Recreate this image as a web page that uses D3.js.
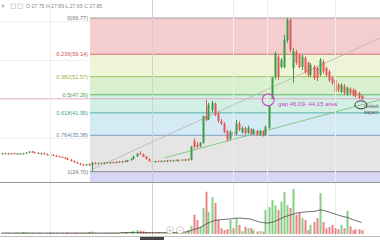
<!DOCTYPE html>
<html><head><meta charset="utf-8">
<script src="https://cdn.jsdelivr.net/npm/d3@7"></script>
<style>html,body{margin:0;padding:0;background:#fff;overflow:hidden}svg{display:block}</style>
</head><body>
<svg id="c" width="380" height="240"></svg>
<script>
const opens=[30.0,30.1,30.0,29.9,30.1,30.0,30.0,29.9,30.1,30.3, 30.6,30.4,30.2,30.0,30.1,29.8,29.6,29.7,29.4,29.2, 29.0,28.8,28.6,28.2,27.8,27.4,27.1,26.8,26.6,26.9, 26.6,27.2,27.0,27.3,27.1,27.4,27.2,27.5,27.3,27.6, 27.5,27.8,27.7,28.1,28.4,29.2,30.0,29.8,29.1,28.4, 27.8,27.6,27.8,27.6,27.9,27.7,28.0,27.8,28.1,27.9, 28.2,28.0,28.3,28.2,33.8,32.6,32.2,33.2,41.0,40.0, 42.8,44.6,41.9,39.6,38.8,36.6,34.3,36.4,35.8,38.8, 36.2,37.4,36.1,37.0,35.8,36.7,35.5,36.4,35.6,37.6, 46.09,52.5,58.4,55.4,55.4,63.3,69.2,55.0,59.8,58.9, 55.4,58.1,56.6,53.1,55.4,55.1,53.1,56.9,55.1,54.0, 52.2,51.6,50.2,48.1,49.9,47.5,49.0,48.7,48.4,47.8, 46.9];
const highs=[30.2,30.3,30.2,30.2,30.3,30.2,30.2,30.2,30.4,30.7, 30.8,30.6,30.4,30.3,30.3,30.0,29.9,29.9,29.6,29.4, 29.2,29.0,28.8,28.4,28.0,27.6,27.3,27.0,27.0,27.1, 27.6,27.5,27.4,27.5,27.5,27.6,27.6,27.7,27.7,27.9, 27.9,28.1,28.2,28.6,29.4,30.2,30.7,30.0,29.3,28.6, 28.0,27.9,28.0,28.0,28.1,28.1,28.2,28.2,28.3,28.3, 28.4,28.4,28.6,32.3,34.4,33.4,33.4,41.2,45.8,44.9, 45.5,45.0,42.4,40.2,39.2,37.0,36.9,36.9,39.9,39.5, 38.0,37.9,38.2,37.5,37.3,37.0,37.0,36.8,38.2,44.15, 52.5,59.9,59.0,58.0,64.8,69.77,69.77,61.0,60.4,59.4, 59.0,58.5,57.0,56.6,56.0,55.5,58.0,57.5,55.5,54.5, 52.6,52.0,50.7,50.6,50.4,49.6,49.4,49.1,48.8,48.1, 47.2];
const lows=[29.8,29.9,29.8,29.8,29.9,29.8,29.8,29.8,30.0,30.2, 30.3,30.1,29.9,29.8,29.7,29.5,29.4,29.3,29.1,28.9, 28.7,28.5,28.1,27.7,27.3,27.0,26.6,26.4,26.5,26.4, 24.70,26.9,26.8,27.0,26.9,27.1,27.0,27.2,27.1,27.3, 27.3,27.5,27.5,27.9,28.2,29.0,29.6,29.0,28.3,27.7, 27.4,27.4,27.5,27.4,27.6,27.5,27.7,27.6,27.8,27.7, 27.9,27.8,28.0,28.0,31.5,31.6,31.9,32.9,39.5,39.8, 42.2,41.0,39.0,38.4,36.0,33.5,34.0,35.2,35.5,36.6, 35.9,35.6,35.8,35.6,35.5,35.2,35.2,35.0,35.3,37.3, 46.09,51.8,51.6,55.0,55.0,62.5,59.8,50.75,56.0,55.0, 54.5,53.4,52.5,52.5,51.6,51.3,52.8,53.5,52.5,51.0, 50.2,46.6,48.0,47.8,47.2,47.0,47.3,46.8,46.5,46.0, 45.8];
const closes=[30.1,30.0,29.9,30.1,30.0,30.0,29.9,30.1,30.3,30.6, 30.4,30.2,30.0,30.1,29.8,29.6,29.7,29.4,29.2,29.0, 28.8,28.6,28.2,27.8,27.4,27.1,26.8,26.6,26.9,26.6, 27.2,27.0,27.3,27.1,27.4,27.2,27.5,27.3,27.6,27.5, 27.8,27.7,28.1,28.4,29.2,30.0,29.8,29.1,28.4,27.8, 27.6,27.8,27.6,27.9,27.7,28.0,27.8,28.1,27.9,28.2, 28.0,28.3,28.2,32.0,32.0,32.0,33.2,41.0,39.9,44.3, 44.9,41.4,39.6,38.8,36.4,34.1,36.4,35.6,38.8,37.0, 37.5,36.0,37.6,35.8,37.0,35.5,36.7,35.3,37.9,44.0, 52.2,59.5,52.5,57.5,63.3,69.2,60.4,60.0,56.6,55.4, 58.4,54.0,53.1,56.0,52.2,52.2,57.5,54.0,53.1,51.6, 50.75,48.1,48.7,50.2,47.8,49.3,47.8,47.2,46.9,46.4, 46.1];
const volumes=[2,1,2,1,2,3,2,4,3,2, 2,1,2,2,1,2,3,2,2,1, 2,2,3,2,2,3,2,2,3,4, 5,2,2,1,2,2,3,2,3,2, 3,4,4,5,6,8,7,6,4,3, 2,2,3,2,2,2,3,2,2,2, 3,4,8,17,40,29,15,54,88,46, 77,65,29,12,8,10,29,12,33,19, 6,15,12,12,8,5,6,5,50,56, 71,60,50,67,88,60,54,94,40,44, 33,29,8,19,25,33,85,25,12,15, 19,12,10,19,12,48,16,8,10,10, 8];
const volMA=[2,2,2,2,2,2,2,2,2,2, 2,2,2,2,2,2,2,2,2,2, 2,2,2,2,2,2,2,2,2,2, 2,2,2,2,2,2,2,2,2,2, 3,3,3,3,3,3,3,3,3,3, 3,3,3,3,3,3,3,3,3,3, 4,4,5,7,9,11,13,16,20,23, 26,28,29,30,30,31,31,32,33,33, 33,32,32,31,29,27,25,24,23,23, 24,26,29,32,35,37,39,41,43,44, 45,46,46,47,47,48,50,50,48,46, 44,42,40,38,36,35,33,30,28,26, 24];
const fibRatios=[0,0.236,0.382,0.5,0.618,0.764,1,1.272];
const fibPrices=[69.77,59.14,52.57,47.26,41.95,35.38,24.70,12.44];
const fibLabels=["0(69.77)","0.236(59.14)","0.382(52.57)","0.5(47.26)","0.618(41.95)","0.764(35.38)","1(24.70)"];
const fibStartIndex=29.5;
const gapTop=46.09, gapBottom=44.15;
const trendFrom=[[30,25.3],[54.5,28.79]];
const trendTo=[[126.2,63.9],[126.2,45.77]];
const headerText="O 27.75 H 27.89 L 27.65 C 27.85";
const gapText="gap 46.09- 44.15 area";
const noteLines=["destek","kapanı"];
const gridIdx=[16,77,88.5,111];
const crossIdx=50.2;

const W=380,H=240,N=opens.length;
const svg=d3.select("#c");
const x=d3.scaleLinear().domain([0,N-1]).range([1.5,361.5]);
const y=d3.scaleLinear().domain([24.70,69.77]).range([171.7,18]);
const yv=d3.scaleLinear().domain([0,100]).range([234,186]);
const FONT="'Liberation Sans',Arial,sans-serif";
svg.append("rect").attr("width",W).attr("height",H).attr("fill","#fff");
svg.append("defs").append("clipPath").attr("id","pc").append("rect").attr("x",0).attr("y",0).attr("width",W).attr("height",182);
const pane=svg.append("g").attr("clip-path","url(#pc)");

[21,60,138].forEach(v=>pane.append("line").attr("x1",0).attr("x2",W).attr("y1",v+0.5).attr("y2",v+0.5).attr("stroke","#f0f0f0"));
gridIdx.forEach(i=>svg.append("line").attr("x1",Math.round(x(i))+0.5).attr("x2",Math.round(x(i))+0.5).attr("y1",0).attr("y2",236).attr("stroke","#ececec"));

const fx=Math.round(x(fibStartIndex));
const bandCols=["#f4cece","#eef5d7","#d8f0cd","#d2efe3","#d4eaf4","#e5e5e5","#d7d6f5"];
const lineCols=["#a0a0a0","#e06a6a","#a6c25a","#62b862","#4fb3a6","#7f9fc2","#8a8a8a","#8a7fe0"];
const labCols=["#777","#d05050","#9fb040","#4a9e4a","#3f9f98","#5d88b8","#777"];
for(let k=0;k<bandCols.length;k++){
  const y0=y(fibPrices[k]),y1=y(fibPrices[k+1]);
  pane.append("rect").attr("x",fx).attr("y",y0).attr("width",W-fx).attr("height",y1-y0).attr("fill",bandCols[k]);
}
fibPrices.forEach((p,k)=>{
  pane.append("line").attr("x1",fx).attr("x2",W).attr("y1",y(p)).attr("y2",y(p)).attr("stroke",lineCols[k]).attr("stroke-width",1);
});
fibLabels.forEach((t,k)=>{
  svg.append("text").attr("x",fx-2).attr("y",y(fibPrices[k])+2).attr("text-anchor","end")
    .attr("font-family",FONT).attr("font-size",5.6).attr("fill",labCols[k]).text(t);
});
svg.append("line").attr("x1",Math.round(x(crossIdx))+0.5).attr("x2",Math.round(x(crossIdx))+0.5).attr("y1",0).attr("y2",236).attr("stroke","#cfcfcf");

pane.append("line").attr("x1",0).attr("x2",W).attr("y1",y(gapTop)).attr("y2",y(gapTop)).attr("stroke","#dba6c6").attr("stroke-width",0.9);

trendFrom.forEach((a,k)=>{
  const b=trendTo[k];
  pane.append("line").attr("x1",x(a[0])).attr("y1",y(a[1])).attr("x2",x(b[0])).attr("y2",y(b[1]))
    .attr("stroke",k===0?"#b9b9b9":"#7cc47c").attr("stroke-width",0.9);
});

const up="#3d9b45",dn="#e05858";
const idx=d3.range(N);
pane.selectAll("line.w").data(idx).enter().append("line")
  .attr("x1",i=>Math.round(x(i))+0.5).attr("x2",i=>Math.round(x(i))+0.5)
  .attr("y1",i=>y(highs[i])).attr("y2",i=>y(lows[i]))
  .attr("stroke",i=>closes[i]>=opens[i]?up:dn).attr("stroke-width",1);
pane.selectAll("rect.b").data(idx).enter().append("rect")
  .attr("x",i=>Math.round(x(i))-0.5).attr("width",2)
  .attr("y",i=>y(Math.max(opens[i],closes[i])))
  .attr("height",i=>Math.max(1,Math.abs(y(opens[i])-y(closes[i]))))
  .attr("fill",i=>closes[i]>=opens[i]?up:dn);

svg.append("circle").attr("cx",x(88.9)).attr("cy",y(45.8)).attr("r",6).attr("fill","none").attr("stroke","#d23cd2").attr("stroke-width",1.1);
svg.append("text").attr("x",x(92.2)).attr("y",y(44.1)).attr("font-family",FONT).attr("font-size",6).attr("fill","#d23cd2").text(gapText);
svg.append("ellipse").attr("cx",x(119.8)).attr("cy",y(44.3)).attr("rx",6).attr("ry",4).attr("fill","none").attr("stroke","#333").attr("stroke-width",1);
noteLines.forEach((t,k)=>svg.append("text").attr("x",x(120.9)).attr("y",y(43.3)+k*6).attr("font-family",FONT).attr("font-size",4.9).attr("fill","#555").text(t));

svg.append("path").attr("d","M2,4 L5,6 L2,8Z").attr("fill","#bbb");
[11,18].forEach(v=>svg.append("rect").attr("x",v).attr("y",4).attr("width",4.5).attr("height",4.5).attr("fill","none").attr("stroke","#ccc").attr("stroke-width",0.8));
svg.append("text").attr("x",26).attr("y",8).attr("font-family",FONT).attr("font-size",5.2).attr("fill","#888").text(headerText);

svg.append("line").attr("x1",0).attr("x2",W).attr("y1",182.5).attr("y2",182.5).attr("stroke","#9a9a9a");

const vu="#86d086",vd="#e68686";
svg.selectAll("rect.v").data(idx).enter().append("rect")
  .attr("x",i=>Math.round(x(i))-0.5).attr("width",2)
  .attr("y",i=>yv(volumes[i])).attr("height",i=>yv(0)-yv(volumes[i]))
  .attr("fill",i=>closes[i]>=opens[i]?vu:vd);
svg.append("path").datum(idx).attr("fill","none").attr("stroke","#444").attr("stroke-width",0.8)
  .attr("d",d3.line().x(i=>x(i)).y(i=>yv(volMA[i])));

svg.append("line").attr("x1",0).attr("x2",W).attr("y1",236.5).attr("y2",236.5).attr("stroke","#bdbdbd");
svg.append("rect").attr("x",140).attr("y",237).attr("width",24).attr("height",3).attr("fill","#444");
[[170,"+"],[180,"−"]].forEach(([cx,g])=>{
  svg.append("circle").attr("cx",cx).attr("cy",230).attr("r",3.5).attr("fill","#fff").attr("stroke","#bbb").attr("stroke-width",0.7);
  svg.append("text").attr("x",cx).attr("y",232).attr("text-anchor","middle").attr("font-family",FONT).attr("font-size",5).attr("fill","#888").text(g);
});
</script>
</body></html>
